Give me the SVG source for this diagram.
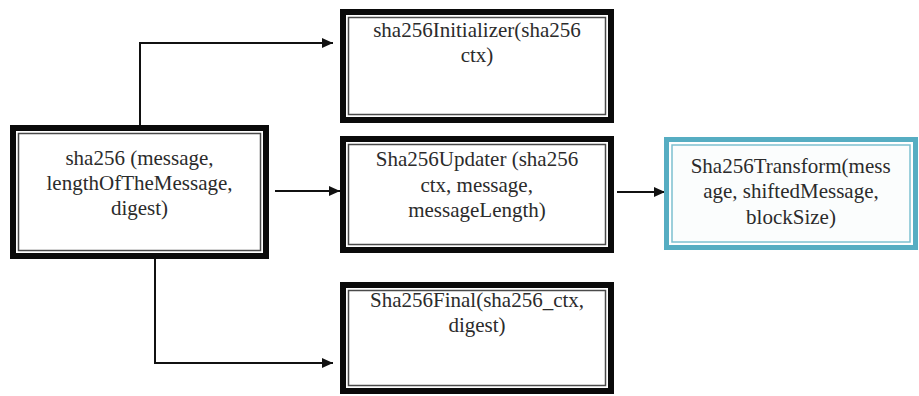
<svg xmlns="http://www.w3.org/2000/svg" width="919" height="396" viewBox="0 0 919 396">
<defs>
<marker id="arr" markerUnits="userSpaceOnUse" markerWidth="11" markerHeight="10" refX="11" refY="5" orient="auto">
<path d="M0,0 L11,5 L0,10 Z" fill="#111111"/>
</marker>
</defs>
<rect width="919" height="396" fill="#ffffff"/>
<g id="connectors" fill="none" stroke="#111111" stroke-width="2" marker-end="url(#arr)">
<path d="M140,125 V43 H333"/>
<path d="M155,259 V363 H333"/>
<path d="M275,191 H340"/>
<path d="M617,192 H665"/>
</g>
<g id="sha256">
<rect x="13" y="128" width="253" height="128" fill="#ffffff" stroke="#0a0a0a" stroke-width="6"/>
<rect x="18.5" y="133.5" width="242" height="117" fill="none" stroke="#4a4a4a" stroke-width="1.5"/>
<text x="65.4" y="165" font-size="21" font-family="Liberation Serif" fill="#2b2b2b">sha256 (message,</text>
<text x="46.5" y="190" font-size="21" font-family="Liberation Serif" fill="#2b2b2b">lengthOfTheMessage,</text>
<text x="110.9" y="215" font-size="21" font-family="Liberation Serif" fill="#2b2b2b">digest)</text>
</g>
<g id="initializer">
<rect x="343" y="12" width="268" height="108" fill="#ffffff" stroke="#0a0a0a" stroke-width="6"/>
<rect x="348.5" y="17.5" width="257" height="97" fill="none" stroke="#4a4a4a" stroke-width="1.5"/>
<text x="373.2" y="37" font-size="21" font-family="Liberation Serif" fill="#2b2b2b">sha256Initializer(sha256</text>
<text x="460.7" y="62" font-size="21" font-family="Liberation Serif" fill="#2b2b2b">ctx)</text>
</g>
<g id="updater">
<rect x="343" y="139" width="268" height="111" fill="#ffffff" stroke="#0a0a0a" stroke-width="6"/>
<rect x="348.5" y="144.5" width="257" height="100" fill="none" stroke="#4a4a4a" stroke-width="1.5"/>
<text x="375.8" y="166" font-size="21" font-family="Liberation Serif" fill="#2b2b2b">Sha256Updater (sha256</text>
<text x="420.4" y="192" font-size="21" font-family="Liberation Serif" fill="#2b2b2b">ctx, message,</text>
<text x="408.2" y="217" font-size="21" font-family="Liberation Serif" fill="#2b2b2b">messageLength)</text>
</g>
<g id="final">
<rect x="343" y="285" width="268" height="106" fill="#ffffff" stroke="#0a0a0a" stroke-width="6"/>
<rect x="348.5" y="290.5" width="257" height="95" fill="none" stroke="#4a4a4a" stroke-width="1.5"/>
<text x="370" y="307" font-size="21" font-family="Liberation Serif" fill="#2b2b2b">Sha256Final(sha256_ctx,</text>
<text x="448.4" y="332" font-size="21" font-family="Liberation Serif" fill="#2b2b2b">digest)</text>
</g>
<g id="transform">
<rect x="666.5" y="139.5" width="249" height="108" fill="#ffffff" stroke="#56adc2" stroke-width="5"/>
<rect x="672" y="145" width="238" height="97" fill="#fbfdfd" stroke="#7dc0d0" stroke-width="1.5"/>
<text x="690.7" y="173" font-size="21" font-family="Liberation Serif" fill="#2b2b2b">Sha256Transform(mess</text>
<text x="703.2" y="198" font-size="21" font-family="Liberation Serif" fill="#2b2b2b">age, shiftedMessage,</text>
<text x="746.1" y="224" font-size="21" font-family="Liberation Serif" fill="#2b2b2b">blockSize)</text>
</g>
</svg>
